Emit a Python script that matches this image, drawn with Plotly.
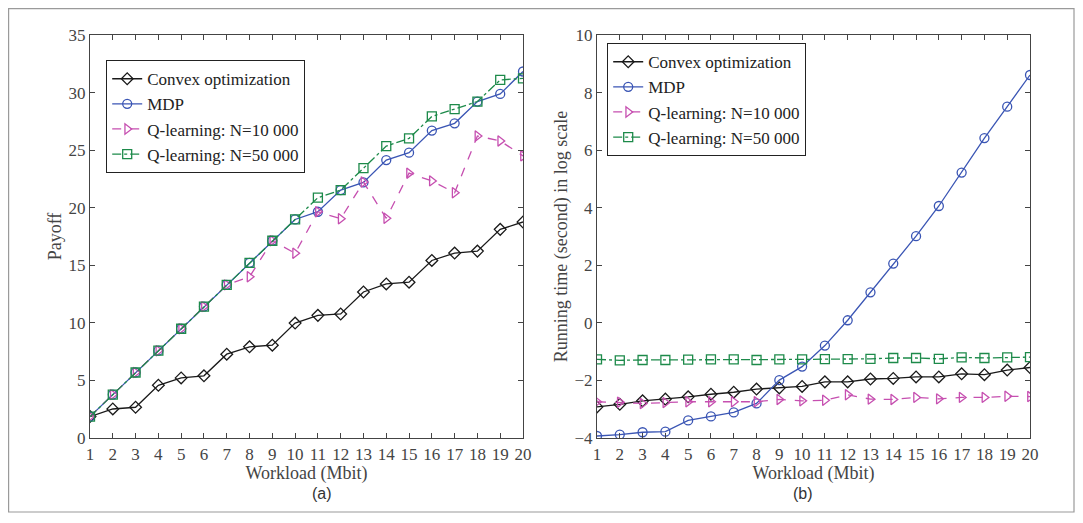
import plotly.graph_objects as go

W, H = 1083, 523
OX, OY = 8, 8  # page body margin offset compensation

workload = list(range(1, 21))
tick_labels = [str(v) for v in workload]

# (a) Payoff
payoff_convex = [1.86, 2.52, 2.67, 4.58, 5.22, 5.40, 7.28, 7.92, 8.06, 9.98,
                 10.65, 10.77, 12.68, 13.38, 13.53, 15.42, 16.06, 16.23, 18.12, 18.76]
payoff_mdp = [1.86, 3.77, 5.69, 7.58, 9.49, 11.41, 13.30, 15.21, 17.13, 18.98,
              19.65, 21.53, 22.20, 24.14, 24.78, 26.70, 27.33, 29.22, 29.88, 31.83]
payoff_q10k = [1.86, 3.77, 5.69, 7.58, 9.49, 11.41, 13.30, 14.00, 17.13, 16.05,
               19.65, 19.04, 22.23, 19.08, 23.00, 22.33, 21.30, 26.23, 25.80, 24.50]
payoff_q50k = [1.86, 3.77, 5.69, 7.58, 9.49, 11.41, 13.30, 15.21, 17.13, 18.98,
               20.87, 21.53, 23.43, 25.35, 26.02, 27.93, 28.57, 29.22, 31.10, 31.23]

# (b) Running time (log scale)
rt_convex = [-2.92, -2.83, -2.71, -2.65, -2.57, -2.48, -2.41, -2.30, -2.26, -2.21,
             -2.05, -2.05, -1.95, -1.93, -1.88, -1.88, -1.77, -1.80, -1.64, -1.55]
rt_mdp = [-3.93, -3.88, -3.80, -3.78, -3.39, -3.25, -3.11, -2.80, -1.99, -1.52,
          -0.79, 0.09, 1.06, 2.06, 3.01, 4.06, 5.22, 6.42, 7.51, 8.61]
rt_q10k = [-2.74, -2.76, -2.80, -2.77, -2.74, -2.74, -2.74, -2.74, -2.66, -2.71,
           -2.69, -2.50, -2.65, -2.66, -2.59, -2.64, -2.59, -2.59, -2.55, -2.56]
rt_q50k = [-1.27, -1.30, -1.29, -1.29, -1.28, -1.27, -1.27, -1.29, -1.27, -1.27,
           -1.26, -1.26, -1.25, -1.22, -1.22, -1.25, -1.20, -1.22, -1.20, -1.19]

names = ["Convex optimization", "MDP", "Q-learning: N=10 000", "Q-learning: N=50 000"]
colors = ["#1a1a1a", "#3a55b4", "#c64fb0", "#1d8a4a"]
symbols = ["diamond-open", "circle-open", "triangle-right-open", "square-open"]
dashes = ["solid", "solid", "dash", "dashdot"]

fig = go.Figure()

def add_series(ys_list, xa, ya, legend):
    for i, ys in enumerate(ys_list):
        fig.add_trace(go.Scatter(
            x=workload, y=ys, name=names[i], mode="lines+markers",
            line=dict(color=colors[i], width=1.3, dash=dashes[i]),
            marker=dict(symbol=symbols[i], size=9, color=colors[i],
                        line=dict(color=colors[i], width=1.3)),
            xaxis=xa, yaxis=ya, legend=legend))

add_series([payoff_convex, payoff_mdp, payoff_q10k, payoff_q50k], "x", "y", "legend")
add_series([rt_convex, rt_mdp, rt_q10k, rt_q50k], "x2", "y2", "legend2")

font_family = "Liberation Serif, Times New Roman, DejaVu Serif, serif"
tick_font = dict(family=font_family, size=17, color="#444444")
title_font = dict(family=font_family, size=18, color="#444444")

def px(x):
    return (x - OX) / W

def py(y):
    return 1 - (y - OY) / H

def xaxis_cfg(x0, x1, anchor):
    return dict(domain=[px(x0), px(x1)], anchor=anchor, range=[1, 20],
                automargin=False,
                tickmode="array", tickvals=workload, ticktext=tick_labels,
                ticks="inside", ticklen=5, tickcolor="#444444",
                showline=True, linecolor="#444444", linewidth=1.2, mirror="ticks",
                showgrid=False, zeroline=False, tickfont=tick_font,
                title=dict(text="Workload (Mbit)", font=title_font, standoff=1))

def yaxis_cfg(anchor, rng, dtick, title, standoff):
    return dict(domain=[py(438), py(35)], anchor=anchor, range=rng,
                automargin=False,
                dtick=dtick, ticks="inside", ticklen=5, tickcolor="#444444",
                showline=True, linecolor="#444444", linewidth=1.2, mirror="ticks",
                showgrid=False, zeroline=False, tickfont=tick_font,
                title=dict(text=title, font=title_font, standoff=standoff))

legend_common = dict(font=dict(family=font_family, size=17, color="#222222"),
                     bordercolor="#222222", borderwidth=1.2, bgcolor="white",
                     xanchor="left", yanchor="top", tracegroupgap=0,
                     itemwidth=30)

caption_font = dict(family="Liberation Sans Narrow, Liberation Sans", size=16, color="#333333")

fig.update_layout(
    width=W, height=H, autosize=False,
    margin=dict(l=0, r=0, t=0, b=0, autoexpand=False),
    paper_bgcolor="white", plot_bgcolor="white",
    xaxis=xaxis_cfg(90, 523, "y"),
    yaxis=yaxis_cfg("x", [0, 35], 5, "Payoff", 2),
    xaxis2=xaxis_cfg(597, 1030, "y2"),
    yaxis2=yaxis_cfg("x2", [-4, 10], 2, "Running time (second) in log scale", 2),
    legend=dict(x=px(106), y=py(60), **legend_common),
    legend2=dict(x=px(607), y=py(43), **legend_common),
    showlegend=True,
    shapes=[dict(type="rect", xref="paper", yref="paper",
                 x0=px(8.6), x1=px(1074), y0=py(512), y1=py(8.6),
                 line=dict(color="#9a9a9a", width=1.2), fillcolor="rgba(0,0,0,0)",
                 layer="below")],
    annotations=[
        dict(text="(a)", xref="paper", yref="paper", x=px(310), y=py(493),
             yanchor="middle", showarrow=False, font=caption_font),
        dict(text="(b)", xref="paper", yref="paper", x=px(815), y=py(493),
             yanchor="middle", showarrow=False, font=caption_font),
    ],
)

fig.write_html("out.html")
